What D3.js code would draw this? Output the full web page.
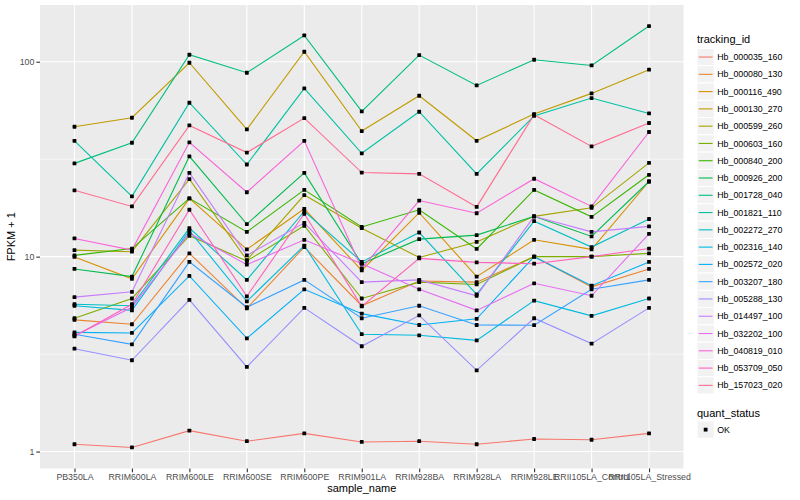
<!DOCTYPE html>
<html><head><meta charset="utf-8">
<script src="https://cdn.jsdelivr.net/npm/d3@7/dist/d3.min.js"></script>
<style>body{margin:0;background:#fff} text{font-family:"Liberation Sans",Arial,Helvetica,sans-serif}</style>
</head><body>
<svg id="chart" width="800" height="500"></svg>
<script>
// ---- data ----
const categories = ["PB350LA","RRIM600LA","RRIM600LE","RRIM600SE","RRIM600PE","RRIM901LA","RRIM928BA","RRIM928LA","RRIM928LE","RRII105LA_Control","RRII105LA_Stressed"];
const trackingIds = ["Hb_000035_160","Hb_000080_130","Hb_000116_490","Hb_000130_270","Hb_000599_260","Hb_000603_160","Hb_000840_200","Hb_000926_200","Hb_001728_040","Hb_001821_110","Hb_002272_270","Hb_002316_140","Hb_002572_020","Hb_003207_180","Hb_005288_130","Hb_014497_100","Hb_032202_100","Hb_040819_010","Hb_053709_050","Hb_157023_020"];
const hb000035 = [1.09, 1.05, 1.28, 1.13, 1.24, 1.12, 1.13, 1.09, 1.16, 1.15, 1.24];
const hb000080 = [4.74, 4.5, 10.4, 5.43, 11.2, 5.6, 7.5, 7.4, 10.0, 7.0, 8.65];
const hb000116 = [9.97, 7.7, 19.9, 10.9, 17.6, 8.5, 16.8, 7.9, 12.2, 10.9, 24.3];
const hb000130 = [46.4, 51.6, 98.8, 45.0, 112.5, 44.1, 66.9, 39.3, 53.9, 68.8, 91.0];
const hb000599 = [10.8, 10.6, 25.0, 9.6, 20.7, 14.0, 9.9, 11.9, 16.1, 17.8, 30.3];
const hb000603 = [4.83, 6.1, 12.8, 9.5, 14.4, 6.1, 7.4, 7.2, 10.0, 10.0, 10.4];
const hb000840 = [10.15, 11.0, 19.9, 13.4, 22.0, 14.2, 17.4, 10.95, 22.0, 16.0, 26.3];
const hb000926 = [8.65, 7.9, 32.7, 14.7, 26.9, 9.2, 12.3, 12.9, 16.1, 12.7, 24.3];
const hb001728 = [30.1, 38.4, 108.6, 87.8, 136.4, 55.6, 108.2, 75.6, 102.4, 95.7, 152.4];
const hb001821 = [39.3, 20.4, 61.6, 29.7, 73.0, 33.9, 55.4, 26.6, 52.7, 65.1, 54.3];
const hb002272 = [5.7, 5.6, 14.0, 7.6, 17.1, 9.4, 13.3, 6.4, 15.2, 11.2, 15.6];
const hb002316 = [5.6, 5.3, 13.6, 5.9, 11.4, 4.0, 3.95, 3.72, 5.95, 4.97, 6.1];
const hb002572 = [4.09, 4.06, 7.96, 3.81, 6.8, 5.1, 4.46, 4.8, 10.0, 7.1, 9.4];
const hb003207 = [4.0, 3.55, 9.4, 5.5, 7.6, 4.83, 5.6, 4.46, 4.45, 6.8, 7.6];
const hb005288 = [3.37, 2.94, 6.0, 2.72, 5.46, 3.47, 5.0, 2.61, 4.83, 3.58, 5.46];
const hb014497 = [6.2, 6.6, 26.9, 10.15, 14.9, 7.4, 7.6, 6.3, 16.1, 13.4, 14.3];
const hb032202 = [3.93, 5.5, 13.2, 9.1, 12.2, 9.2, 6.8, 5.3, 7.3, 6.3, 13.1];
const hb040819 = [12.4, 10.8, 38.6, 21.4, 39.3, 8.7, 19.4, 16.7, 25.1, 18.1, 43.6];
const hb053709 = [3.9, 5.7, 17.4, 6.26, 16.6, 5.56, 9.8, 9.35, 9.2, 10.0, 11.0];
const hb157023 = [21.9, 18.1, 47.1, 34.2, 51.4, 27.0, 26.6, 18.0, 53.5, 36.8, 48.5];
const seriesValues = [hb000035,hb000080,hb000116,hb000130,hb000599,hb000603,hb000840,hb000926,hb001728,hb001821,hb002272,hb002316,hb002572,hb003207,hb005288,hb014497,hb032202,hb040819,hb053709,hb157023];
const yTicks = [1, 10, 100];
const quantStatus = ["OK"];
const palette = ["#F8766D","#EA8331","#D89000","#C09B00","#A3A500","#7CAE00","#39B600","#00BB4E","#00BF7D","#00C1A3","#00BFC4","#00BAE0","#00B0F6","#35A2FF","#9590FF","#C77CFF","#E76BF3","#FA62DB","#FF62BC","#FF6C91"];

// ---- layout ----
const svg = d3.select("#chart");
const P = {left: 40, top: 5, right: 683.5, bottom: 468.5};

const x = d3.scalePoint().domain(categories).range([P.left, P.right]).padding(0.6);
const all = seriesValues.flat();
const lmin = Math.log10(d3.min(all)), lmax = Math.log10(d3.max(all));
const ex = (lmax - lmin) * 0.05;
const y = d3.scaleLog().domain([Math.pow(10, lmin - ex), Math.pow(10, lmax + ex)]).range([P.bottom, P.top]);

// panel
svg.append("rect").attr("x", P.left).attr("y", P.top).attr("width", P.right - P.left).attr("height", P.bottom - P.top).attr("fill", "#EBEBEB");

const g = svg.append("g");
const minor = yTicks.concat([1000]).map(t => t / Math.sqrt(10)).filter(v => y(v) >= P.top && y(v) <= P.bottom);
g.selectAll(".minor").data(minor).join("line")
  .attr("x1", P.left).attr("x2", P.right).attr("y1", d => y(d)).attr("y2", d => y(d))
  .attr("stroke", "#fff").attr("stroke-width", 0.55);
g.selectAll(".majy").data(yTicks).join("line")
  .attr("x1", P.left).attr("x2", P.right).attr("y1", d => y(d)).attr("y2", d => y(d))
  .attr("stroke", "#fff").attr("stroke-width", 1.1);
g.selectAll(".majx").data(categories).join("line")
  .attr("x1", d => x(d)).attr("x2", d => x(d)).attr("y1", P.top).attr("y2", P.bottom)
  .attr("stroke", "#fff").attr("stroke-width", 1.1);

// lines
const line = d3.line().x((d, i) => x(categories[i])).y(d => y(d));
svg.append("g").selectAll("path").data(seriesValues).join("path")
  .attr("d", d => line(d)).attr("fill", "none")
  .attr("stroke", (d, i) => palette[i]).attr("stroke-width", 1.1);

// points
const pts = [];
seriesValues.forEach((s, si) => s.forEach((v, ci) => pts.push({c: categories[ci], v})));
const ps = 3.8;
svg.append("g").selectAll("rect").data(pts).join("rect")
  .attr("x", d => x(d.c) - ps / 2).attr("y", d => y(d.v) - ps / 2)
  .attr("width", ps).attr("height", ps).attr("rx", 0.6).attr("fill", "#000");

// axes
const yAxis = d3.axisLeft(y).tickValues(yTicks).tickFormat(d3.format("d")).tickSize(3.7).tickPadding(2);
const ya = svg.append("g").attr("transform", `translate(${P.left},0)`).call(yAxis);
const xAxis = d3.axisBottom(x).tickSize(3.7).tickPadding(1.8);
const xa = svg.append("g").attr("transform", `translate(0,${P.bottom})`).call(xAxis);
[ya, xa].forEach(a => {
  a.select(".domain").remove();
  a.selectAll(".tick line").attr("stroke", "#333333").attr("stroke-width", 1.1);
  a.selectAll(".tick text").attr("fill", "#4D4D4D").attr("font-size", "8.8px").attr("font-family", "Liberation Sans, Arial, sans-serif");
});

// axis titles
svg.append("text").attr("x", (P.left + P.right) / 2).attr("y", 492).attr("text-anchor", "middle")
  .attr("font-size", "11px").attr("fill", "#000").text("sample_name");
svg.append("text").attr("transform", `translate(15,${(P.top + P.bottom) / 2}) rotate(-90)`).attr("text-anchor", "middle")
  .attr("font-size", "11px").attr("fill", "#000").text("FPKM + 1");

// legend
const L = {x: 697, key: 17.28};
const lg = svg.append("g");
lg.append("text").attr("x", L.x).attr("y", 43).attr("font-size", "11px").attr("fill", "#000").text("tracking_id");
const items = lg.selectAll(".it").data(trackingIds).join("g")
  .attr("transform", (d, i) => `translate(${L.x},${48.4 + i * L.key})`);
items.append("rect").attr("width", L.key).attr("height", L.key).attr("fill", "#F2F2F2").attr("stroke", "#fff").attr("stroke-width", 1);
items.append("line").attr("x1", 1.7).attr("x2", L.key - 1.7).attr("y1", L.key / 2).attr("y2", L.key / 2)
  .attr("stroke", (d, i) => palette[i]).attr("stroke-width", 1.1);
items.append("text").attr("x", L.key + 3).attr("y", L.key / 2 + 3.1).attr("font-size", "8.8px").attr("fill", "#000").text(d => d);

const qy = 416.5;
lg.append("text").attr("x", L.x).attr("y", qy).attr("font-size", "11px").attr("fill", "#000").text("quant_status");
const q = lg.selectAll(".q").data(quantStatus).join("g").attr("transform", (d, i) => `translate(${L.x},${421 + i * L.key})`);
q.append("rect").attr("width", L.key).attr("height", L.key).attr("fill", "#F2F2F2").attr("stroke", "#fff");
q.append("rect").attr("x", L.key / 2 - ps / 2).attr("y", L.key / 2 - ps / 2).attr("width", ps).attr("height", ps).attr("fill", "#000");
q.append("text").attr("x", L.key + 3).attr("y", L.key / 2 + 3.1).attr("font-size", "8.8px").attr("fill", "#000").text(d => d);
</script>
</body></html>
